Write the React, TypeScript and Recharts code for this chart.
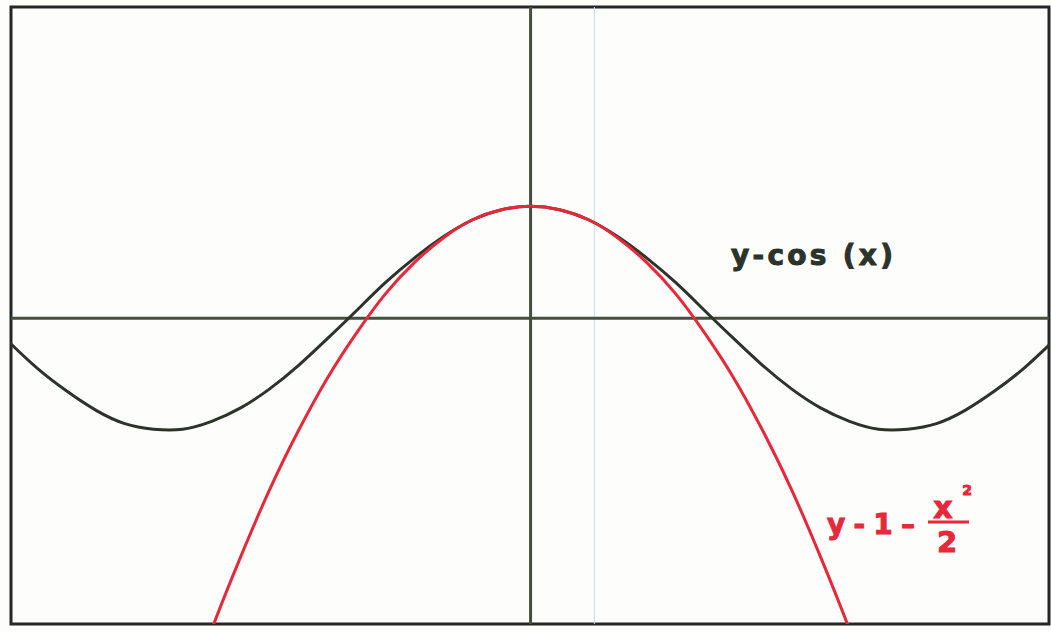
import { LineChart, Line, XAxis, YAxis, ReferenceLine, ReferenceArea } from "recharts";

// x positions read along the horizontal axis (radians)
const xs = [
  -4.5, -4.25, -4, -3.75, -3.5, -3.25, -3, -2.75, -2.5, -2.25, -2, -1.75, -1.5, -1.25, -1, -0.75, -0.5, -0.25,
  0, 0.25, 0.5, 0.75, 1, 1.25, 1.5, 1.75, 2, 2.25, 2.5, 2.75, 3, 3.25, 3.5, 3.75, 4, 4.25, 4.5,
];

// black curve, y = cos(x)
const cosY = [
  -0.21, -0.45, -0.65, -0.82, -0.94, -0.99, -0.99, -0.92, -0.8, -0.63, -0.42, -0.18, 0.07, 0.32, 0.54, 0.73, 0.88, 0.97,
  1, 0.97, 0.88, 0.73, 0.54, 0.32, 0.07, -0.18, -0.42, -0.63, -0.8, -0.92, -0.99, -0.99, -0.94, -0.82, -0.65, -0.45, -0.21,
];

// red curve, y = 1 - x^2/2 (leaves the frame near x = +-2.7)
const parabolaY = [
  null, null, null, null, null, null, -3.5, -2.78, -2.13, -1.53, -1, -0.53, -0.13, 0.22, 0.5, 0.72, 0.88, 0.97,
  1, 0.97, 0.88, 0.72, 0.5, 0.22, -0.13, -0.53, -1, -1.53, -2.13, -2.78, -3.5, null, null, null, null, null, null,
];

const xDomain: [number, number] = [-4.48, 4.47];
const yDomain: [number, number] = [-2.73, 2.78];
const scanLineX = 0.55;

const data = xs.map((x, i) => ({ x, cos: cosY[i], parabola: parabolaY[i] }));

const AXIS = "#454f40";
const INK = "#2c332b";
const RED = "#e5283a";

export default function App() {
  return (
    <div style={{ position: "absolute", left: 0, top: 0, width: 1051, height: 632, background: "#fdfdfc" }}>
      <LineChart width={1051} height={632} data={data} margin={{ top: 7, right: 2, bottom: 8, left: 11 }}>
        <XAxis dataKey="x" type="number" domain={xDomain} allowDataOverflow hide />
        <YAxis type="number" domain={yDomain} allowDataOverflow hide />
        <ReferenceLine x={scanLineX} stroke="#c9d7ee" strokeWidth={1} />
        <ReferenceLine x={0} stroke={AXIS} strokeWidth={3} />
        <ReferenceLine y={0} stroke={AXIS} strokeWidth={3} />
        <Line
          dataKey="cos"
          type="natural"
          stroke={INK}
          strokeWidth={3}
          dot={false}
          isAnimationActive={false}
        />
        <Line
          dataKey="parabola"
          type="natural"
          stroke={RED}
          strokeWidth={3}
          dot={false}
          isAnimationActive={false}
        />
        <ReferenceArea
          x1={xDomain[0]}
          x2={xDomain[1]}
          y1={yDomain[0]}
          y2={yDomain[1]}
          fill="none"
          stroke="#262626"
          strokeWidth={3}
          ifOverflow="visible"
        />
      </LineChart>
      <svg
        width={1051}
        height={632}
        style={{ position: "absolute", left: 0, top: 0, pointerEvents: "none" }}
        fontFamily="'DejaVu Sans', Verdana, sans-serif"
        fontWeight="bold"
        strokeWidth={1}
      >
        <text x={731} y={265} fontSize={28} textLength={162} lengthAdjust="spacing" fill={INK} stroke={INK}>
          y-cos (x)
        </text>
        <g fill={RED} stroke={RED}>
          <text x={827} y={534} fontSize={28} textLength={88} lengthAdjust="spacing">
            y-1–
          </text>
          <text x={943} y={518} fontSize={30} textAnchor="middle">
            x
          </text>
          <text x={967} y={495} fontSize={14} textAnchor="middle">
            2
          </text>
          <line x1={928} x2={969} y1={522} y2={522} strokeWidth={3} />
          <text x={947} y={552} fontSize={29} textAnchor="middle">
            2
          </text>
        </g>
      </svg>
    </div>
  );
}
